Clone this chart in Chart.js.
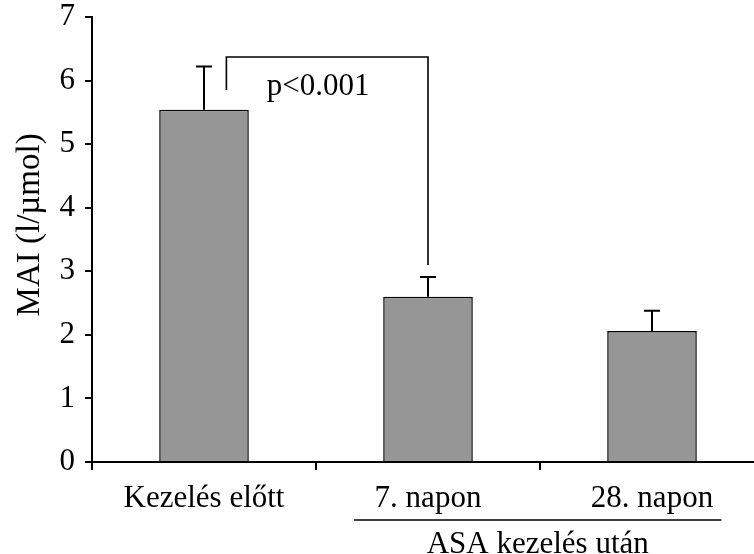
<!DOCTYPE html>
<html>
<head>
<meta charset="utf-8">
<script src="https://cdn.jsdelivr.net/npm/chart.js@4.4.1/dist/chart.umd.min.js"></script>
<style>
  html, body { margin: 0; padding: 0; background: #fff; overflow: hidden; }
  #wrap { width: 770px; height: 554px; position: relative; }
</style>
</head>
<body>
<div id="wrap"><canvas id="c"></canvas></div>
<script>
// MAI before / after ASA treatment, mean + upper error bar
const categories = ['Kezelés előtt', '7. napon', '28. napon'];
const meanValues = [5.54, 2.60, 2.06];
const errorValues = [0.68, 0.31, 0.32];
const yTicks = [0, 1, 2, 3, 4, 5, 6, 7];
const yTitle = 'MAI (l/µmol)';
const groupLabel = 'ASA kezelés után';
const groupSpan = [0.67, 2.31];        // category units covered by the group underline
const pLabel = 'p<0.001';
const bracketX = [0.1, 1.0];           // category units
const bracketY = [5.85, 6.37, 3.10];   // left end, top, right end (data units)
const pLabelPos = [0.51, 5.77];        // baseline

const FONT = '"Liberation Serif", "Times New Roman", serif';

const extras = {
  id: 'extras',
  afterDatasetsDraw(chart) {
    const { ctx, scales: { x, y }, chartArea } = chart;
    ctx.save();
    ctx.strokeStyle = '#000';
    ctx.fillStyle = '#000';
    // error bars
    ctx.lineWidth = 2;
    meanValues.forEach((v, i) => {
      const px = x.getPixelForValue(i);
      const y0 = y.getPixelForValue(v);
      const y1 = y.getPixelForValue(v + errorValues[i]);
      ctx.beginPath();
      ctx.moveTo(px, y0); ctx.lineTo(px, y1);
      ctx.moveTo(px - 8, y1); ctx.lineTo(px + 8, y1);
      ctx.stroke();
    });
    // significance bracket
    ctx.lineWidth = 1.6;
    const bx0 = x.getPixelForValue(bracketX[0]), bx1 = x.getPixelForValue(bracketX[1]);
    ctx.beginPath();
    ctx.moveTo(bx0, y.getPixelForValue(bracketY[0]));
    ctx.lineTo(bx0, y.getPixelForValue(bracketY[1]));
    ctx.lineTo(bx1, y.getPixelForValue(bracketY[1]));
    ctx.lineTo(bx1, y.getPixelForValue(bracketY[2]));
    ctx.stroke();
    ctx.font = '31px ' + FONT;
    ctx.textAlign = 'center';
    ctx.textBaseline = 'alphabetic';
    ctx.fillText(pLabel, x.getPixelForValue(pLabelPos[0]), y.getPixelForValue(pLabelPos[1]));
    // group underline + label
    const gx0 = x.getPixelForValue(groupSpan[0]), gx1 = x.getPixelForValue(groupSpan[1]);
    ctx.lineWidth = 1.6;
    ctx.beginPath();
    ctx.moveTo(gx0, chartArea.bottom + 58); ctx.lineTo(gx1, chartArea.bottom + 58);
    ctx.stroke();
    ctx.fillText(groupLabel, (gx0 + gx1) / 2, chartArea.bottom + 91);
    // y axis title
    ctx.font = '33px ' + FONT;
    ctx.textBaseline = 'middle';
    ctx.translate(30, y.getPixelForValue(3.73));
    ctx.rotate(-Math.PI / 2);
    ctx.fillText(yTitle, 0, 0);
    ctx.restore();
  }
};

new Chart(document.getElementById('c'), {
  type: 'bar',
  data: {
    labels: categories,
    datasets: [{
      data: meanValues,
      backgroundColor: '#969696',
      borderColor: '#000',
      borderWidth: 1.5,
      barPercentage: 0.8,
      categoryPercentage: 0.5
    }]
  },
  options: {
    responsive: true,
    maintainAspectRatio: false,
    animation: false,
    layout: { padding: { top: 17, left: 0, right: 6, bottom: 37 } },
    plugins: { legend: { display: false }, tooltip: { enabled: false } },
    scales: {
      x: {
        offset: true,
        grid: { offset: true, drawOnChartArea: false, drawTicks: true, tickLength: 8, color: '#000', lineWidth: 2 },
        border: { display: true, color: '#000', width: 2 },
        ticks: { color: '#000', padding: 10, font: { family: FONT, size: 31 } },
        afterFit(s) { s.height = 55; }
      },
      y: {
        min: 0, max: 7,
        afterBuildTicks(s) { s.ticks = yTicks.map(v => ({ value: v })); },
        grid: { drawOnChartArea: false, drawTicks: true, tickLength: 7, color: '#000', lineWidth: 2 },
        border: { display: true, color: '#000', width: 2 },
        ticks: { color: '#000', padding: 10, font: { family: FONT, size: 31, lineHeight: 1 } },
        afterFit(s) { s.width = 92; s.paddingTop = 0; s.paddingBottom = 0; }
      }
    }
  },
  plugins: [extras]
});
</script>
</body>
</html>
